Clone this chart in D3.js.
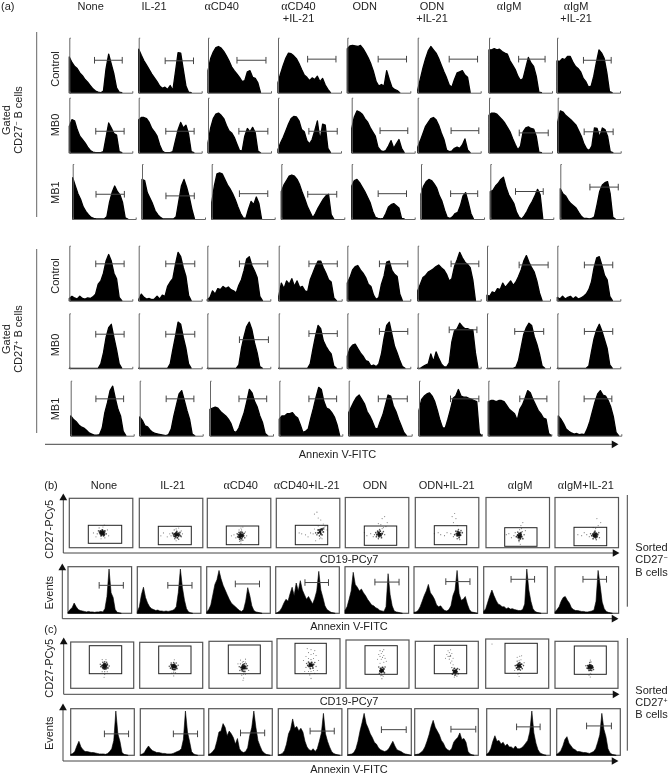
<!DOCTYPE html>
<html>
<head>
<meta charset="utf-8">
<script src="https://cdn.jsdelivr.net/npm/d3@7"></script>
<style>
  body { margin: 0; background: #fff; }
  svg { display: block; filter: blur(0.4px); }
  text { font-family: "Liberation Sans", Arial, sans-serif; font-size: 11px; fill: #222; }
</style>
</head>
<body>
<div id="chart"></div>
<script>
// ---- values ----
var namesTop = ["None", "IL-21", "αCD40", "αCD40|+IL-21", "ODN", "ODN|+IL-21", "αIgM", "αIgM|+IL-21"];
var namesLower = ["None", "IL-21", "αCD40", "αCD40+IL-21", "ODN", "ODN+IL-21", "αIgM", "αIgM+IL-21"];
var rowNames = ["Control", "MB0", "MB1", "Control", "MB0", "MB1"];

// panel (a) histograms: % of panel height per channel bin (25 bins), trailing zeros left off
var histA = [
  [
    [65,55,48,44,36,31,24,19,13,7,3,1,0,3,44,70,52,34,9,1,0],
    [79,68,58,50,42,34,27,20,12,8,10,6,13,4,38,73,72,42,12,1,0],
    [40,62,74,82,84,81,75,67,58,47,40,34,28,20,22,38,40,28,26,18,0],
    [18,35,50,63,72,71,67,62,53,42,32,28,22,27,24,30,20,26,14,6,0],
    [80,85,86,85,84,86,80,72,63,52,38,20,12,15,12,40,24,10,6,4,0],
    [5,25,45,62,76,84,78,72,62,50,38,27,14,10,24,36,38,40,32,28,0],
    [78,78,80,78,79,75,72,70,58,50,42,30,22,26,45,64,54,48,30,1,0],
    [58,57,62,60,66,66,56,48,44,38,26,20,10,12,30,55,78,72,62,36,2,0]
  ],
  [
    [48,60,58,42,30,24,18,10,4,1,0,0,0,2,28,54,45,35,32,2,0],
    [60,64,64,62,55,44,38,30,14,3,0,0,0,2,22,42,55,45,50,34,2,0],
    [18,45,62,70,72,68,62,50,40,36,28,16,4,3,30,44,38,46,36,3,0],
    [6,18,28,40,52,62,66,65,58,42,38,22,16,24,40,58,22,52,50,8,0],
    [44,65,76,74,70,62,56,46,38,30,10,4,2,4,12,22,8,16,24,8,0],
    [10,22,35,48,55,62,64,60,50,36,24,5,2,3,8,10,8,14,25,5,0],
    [68,72,72,70,65,60,54,46,38,26,15,5,12,38,45,47,44,43,30,1,0],
    [56,76,74,68,64,60,55,50,40,30,16,7,4,12,45,44,28,45,42,30,2,0]
  ],
  [
    [75,60,46,36,22,14,8,3,1,0,0,0,0,4,30,48,60,50,44,30,2,0],
    [72,70,48,38,28,15,8,3,0,0,0,0,0,4,32,60,72,58,40,18,0],
    [30,60,82,84,82,72,62,55,46,35,22,10,2,1,18,32,26,40,28,0],
    [50,62,70,78,80,78,72,62,48,36,22,12,2,10,20,28,36,42,45,8,0],
    [60,70,72,66,58,50,40,30,14,3,1,0,1,10,22,26,28,24,20,1,0],
    [45,60,68,72,70,64,56,42,32,16,3,1,4,10,12,24,42,48,30,10,0],
    [50,52,60,65,72,76,58,44,36,28,12,3,0,6,14,24,32,42,54,44,0],
    [55,46,42,34,28,24,20,12,5,1,1,0,1,4,26,50,62,66,68,46,3,0]
  ],
  [
    [4,8,5,3,8,4,3,5,4,7,12,30,36,50,72,84,72,50,40,6,0],
    [2,12,6,3,4,2,3,8,3,10,8,26,34,40,66,88,80,60,44,10,0],
    [2,6,18,12,22,20,26,22,25,20,18,14,28,38,55,76,80,64,54,42,8,0],
    [8,32,22,36,30,40,26,36,24,26,18,16,38,50,62,72,72,60,50,38,34,5,0],
    [32,42,56,62,64,56,50,42,30,26,10,2,6,30,45,70,72,55,48,44,12,0],
    [18,30,42,46,52,55,58,62,65,60,56,48,36,40,62,74,88,78,70,66,60,38,0],
    [10,8,16,14,22,20,32,24,30,36,28,34,44,56,72,82,70,60,52,36,14,0],
    [6,3,8,3,6,8,3,7,3,5,8,12,20,34,60,78,80,64,46,38,8,0]
  ],
  [
    [0,0,0,0,0,0,0,0,0,0,0,0,8,28,56,74,80,56,34,8,0],
    [0,0,0,0,0,0,0,0,0,0,0,0,8,34,58,84,80,56,36,8,0],
    [0,0,0,0,0,0,0,0,0,0,0,0,6,36,58,76,84,70,46,28,3,0],
    [0,0,0,0,0,0,0,0,0,0,0,0,8,34,58,78,72,50,40,32,26,4,0],
    [22,36,42,44,36,28,22,14,12,4,6,3,8,26,55,78,84,62,40,28,14,3,0],
    [0,0,3,6,8,26,12,30,18,8,3,2,10,48,68,72,82,76,72,72,70,70,28,0],
    [0,0,0,0,0,0,0,0,0,0,0,2,14,38,62,74,82,78,58,44,26,4,0],
    [0,0,0,0,0,0,0,0,0,0,0,0,4,30,54,70,80,68,52,36,6,0]
  ],
  [
    [36,30,26,20,16,14,10,5,3,1,1,2,14,42,60,82,90,68,48,36,8,0],
    [34,28,18,16,10,6,4,3,2,1,0,2,12,36,56,76,82,64,46,30,3,0],
    [48,50,52,50,44,40,36,30,22,8,6,14,28,42,62,84,78,62,52,36,24,4,0],
    [30,36,36,40,40,42,36,32,20,6,8,12,32,50,70,88,84,62,50,48,42,34,20,0],
    [42,52,62,70,74,66,58,44,36,26,14,12,26,38,56,74,72,54,44,30,18,6,0],
    [46,66,72,76,78,72,62,46,28,14,14,30,48,68,72,84,72,70,70,68,66,64,62,4,0],
    [62,64,64,62,64,64,62,55,48,44,40,28,48,56,68,82,78,66,56,46,40,32,30,4,0],
    [36,30,22,12,8,5,3,4,2,3,2,12,26,44,62,76,82,74,72,64,52,34,6,0]
  ]
];
// marker gates of (a): start and end channel, and level as % of panel height
var gateLoA = [
  [40,42,46,47,49,50,47,42],[42,43,49,49,45,53,48,42],[37,38,44,42,42,47,40,47],
  [42,43,51,48,51,53,51,43],[42,43,51,48,51,50,44,43],[40,42,46,47,47,50,50,41]
];
var gateHiA = [
  [84,87,92,92,94,95,89,86],[87,88,95,94,89,97,94,88],[82,83,89,88,87,90,84,92],
  [87,89,96,93,96,97,97,88],[87,89,97,93,96,94,90,88],[84,86,90,91,93,95,93,85]
];
var gateLevelA = [
  [59,58,59,61,61,61,61,59],[39,39,39,39,40,40,36,38],[45,42,46,45,46,46,50,58],
  [67,67,67,67,67,67,65,65],[62,62,52,63,67,70,67,67],[67,67,67,67,67,67,67,67]
];

// panels (b) and (c) histograms: 32 channel bins
var histB = [
  [2,8,12,22,14,8,6,5,4,3,4,3,3,2,3,3,4,3,10,36,95,44,34,8,2,1,0],
  [3,14,40,56,34,22,14,10,8,6,7,5,5,4,5,4,5,6,8,14,45,95,55,28,10,3,1,0],
  [3,8,18,40,62,72,92,74,60,50,40,30,22,18,14,10,6,4,8,26,55,38,16,6,3,2,1,0],
  [0,2,5,12,22,30,26,42,56,38,65,48,70,50,40,30,36,28,20,32,48,90,50,34,16,8,5,2,1,0],
  [6,14,30,48,88,62,56,48,52,44,38,30,24,18,16,12,10,6,5,4,14,85,40,16,5,3,2,1,0],
  [2,3,6,14,26,38,48,62,44,38,30,18,14,16,10,6,5,8,16,38,50,92,42,28,30,36,20,8,3,2,1,0],
  [4,10,24,38,50,38,28,20,18,14,14,10,12,9,10,8,7,6,6,8,20,95,50,26,10,4,2,1,0],
  [3,8,14,26,34,36,28,22,12,8,6,6,5,4,4,3,3,4,5,7,26,92,60,24,10,4,2,1,0]
];
var histC = [
  [2,4,8,20,30,18,12,8,8,7,6,6,5,4,3,3,3,2,4,8,14,32,95,46,30,6,2,1,0],
  [1,3,6,14,20,14,10,8,6,6,5,4,4,3,3,3,4,6,8,10,14,34,95,50,30,8,3,1,0],
  [2,4,8,14,30,50,52,68,60,42,52,46,38,24,36,14,8,6,8,16,42,60,95,60,32,20,10,5,2,1,0],
  [1,2,4,10,24,46,56,78,58,62,52,58,50,30,18,12,10,14,8,14,30,48,90,46,30,18,8,4,2,1,0],
  [1,2,3,6,14,30,52,70,90,68,58,46,38,28,24,16,12,10,8,10,14,22,30,20,12,10,8,5,3,2,1,0],
  [1,2,3,6,10,18,30,44,62,75,60,52,44,32,26,16,12,10,14,28,34,38,48,34,36,28,8,3,1,0],
  [2,6,14,30,42,30,32,24,28,20,24,18,18,14,20,14,14,16,20,26,32,50,95,48,26,12,5,3,1,0],
  [2,5,10,20,34,40,26,20,14,12,8,8,7,6,6,5,4,6,8,14,28,44,90,56,40,14,5,2,1,0]
];
var gateLoB = [49,48,45,46,47,50,43,44], gateHiB = [87,86,83,83,85,88,80,81], gateLevelB = [60,60,63,66,67,68,73,73];
var gateLoC = [53,52,50,50,53,57,47,47], gateHiC = [91,90,88,88,92,96,84,86], gateLevelC = [46,46,48,52,55,56,61,63];

// dot plots: x, y pairs in % of the frame, the first pair is the middle of the main cloud
var dotsB = [
  [52,30,50,32,54,28,53,33,49,28,55,31,51,26,48,31,56,34,52,36,50,24,54,24,46,34,58,28,44,28,60,36,53,42,47,40,56,20,50,18,38,30,62,24,55,46,42,22,53,30,51,29,50,30,53,27,52,33,49,34,55,26],
  [59,26,56,28,62,24,58,30,61,29,55,23,63,27,57,22,60,20,54,26,64,31,59,33,52,30,66,22,56,18,62,17,50,24,68,28,48,28,44,22,38,30,34,24,58,38,62,40,55,36,60,26,58,25,57,27,61,25,53,29,65,24,58,14,66,34],
  [53,24,51,26,55,22,52,29,56,27,50,21,54,18,51,17,57,24,49,26,53,32,55,31,50,31,58,29,48,22,53,14,51,13,56,15,59,20,47,28,60,32,54,36,50,36,45,20,42,26,38,24,62,24,53,40,56,42,53,9,54,25,52,23,53,27,55,25,51,23,52,20],
  [69,32,72,36,66,30,74,40,70,28,76,42,68,24,72,26,64,26,66,36,74,32,78,44,62,30,70,20,68,18,72,18,58,28,54,30,50,22,46,26,40,28,36,30,60,38,80,36,66,44,74,48,60,68,64,72,66,60,70,56,62,14,71,38,73,38,75,38,69,36],
  [54,27,52,30,56,24,50,26,58,28,53,22,55,33,51,33,49,22,57,20,60,32,48,30,46,26,54,36,58,38,52,18,62,26,44,22,40,28,34,24,30,30,60,40,64,42,56,46,52,48,66,50,58,58,62,62,54,27,53,26,55,27,54,25,53,29],
  [68,27,70,30,66,24,67,32,71,25,65,28,69,20,72,34,64,33,68,36,74,30,62,26,66,18,70,16,60,22,56,28,50,30,46,24,40,26,36,30,30,28,66,44,60,50,64,58,58,62,62,68,68,27,69,28,67,26,68,30,69,24],
  [53,23,55,26,51,20,52,28,56,22,50,25,54,18,52,15,55,30,50,31,57,32,48,22,58,18,53,36,56,38,52,12,46,30,44,24,60,26,40,20,36,28,62,34,55,44,58,50,54,7,53,24,54,24,52,24,53,21,54,28,52,22,32,26],
  [63,25,65,28,61,23,62,30,66,22,60,27,64,20,67,26,58,24,63,33,69,30,60,18,65,16,56,28,54,22,50,26,46,30,42,24,36,26,70,20,64,38,60,40,68,44,72,50,66,58,63,26,62,25,64,25,63,23,64,28,62,22]
];
var dotsC = [
  [54,48,52,50,56,46,53,53,55,52,51,45,57,49,50,49,54,42,52,43,56,42,58,52,48,47,54,57,51,56,57,56,59,44,47,52,54,36,50,36,58,36,54,30,53,24,56,62,50,62,61,48,54,49,53,47,55,48,54,46,53,50],
  [54,47,56,49,52,45,55,52,53,51,57,45,51,48,58,48,54,41,52,42,56,41,50,51,59,43,54,56,50,55,58,55,49,44,61,50,47,48,54,35,51,33,57,34,54,27,55,62,54,47,55,46,53,48,54,49,56,46],
  [55,44,53,47,57,42,54,50,56,52,52,40,58,46,51,44,55,36,53,37,57,36,59,52,50,52,55,57,53,56,58,56,60,42,49,38,61,48,48,46,55,30,52,28,58,30,55,22,54,17,58,62,50,60,63,38,46,52,55,44,54,45,56,44,55,46,54,42,53,44,56,47],
  [54,47,52,50,56,45,51,44,55,52,58,48,50,53,53,40,57,41,49,46,60,52,47,50,54,58,58,60,50,60,62,44,46,42,54,34,50,34,58,36,52,27,60,30,64,36,44,34,54,68,50,72,58,70,46,64,62,66,54,78,48,80,60,76,66,56,42,56,54,20,52,48,55,48,54,46,53,46],
  [57,38,55,41,59,35,56,33,58,43,54,36,60,40,53,31,61,32,57,27,55,26,59,25,52,44,62,44,57,20,54,52,60,54,56,60,58,64,54,66,60,68,56,72,52,70,62,62,58,76,54,78,60,80,50,60,64,56,57,37,56,38,58,37,57,35,55,35],
  [63,36,65,39,61,33,62,42,66,35,64,31,60,38,67,42,59,30,63,28,68,31,58,44,62,24,66,26,60,50,56,54,58,58,54,62,52,68,56,70,50,72,54,76,58,74,52,80,56,82,60,64,48,64,70,40,63,36,64,37,62,35,64,34,56,68,54,68],
  [53,45,55,48,51,43,52,50,56,43,54,52,50,47,57,49,53,39,51,38,55,37,49,41,58,40,53,57,56,58,50,55,47,46,60,46,53,31,56,30,51,29,53,24,46,36,61,52,54,65,50,63,57,66,53,45,54,46,52,46,54,44,10,90],
  [56,45,54,47,58,43,55,50,57,49,53,42,59,47,56,39,54,38,58,38,52,48,60,44,55,55,57,56,51,43,61,40,56,32,54,28,58,30,56,24,49,48,56,60,54,45,55,46,56,44,57,45,55,44]
];
// ---- end of values ----

// ---- layout ----
var width = 668, height = 776;
var aLeft = [
  [69.3,138.7,208,278,347.3,417.7,489,557],
  [69.3,138.7,208,278,351.7,417.7,489,557.7],
  [72.7,142,211.7,281.3,351.7,421,490.3,560.3],
  [69.3,138.7,207.3,278.7,347.3,417.7,487,557.3],
  [69.3,138.7,207.3,278.7,347.3,417.7,487,557.3],
  [70.7,139.7,210,279.3,348.7,419,488.3,558.3]
];
var aBase = [92.7,152.7,219,300.7,368.3,435.7];
var aTitleX = [90.7,154,221.7,298.5,364.7,432,509,576];
var aRowY = [69,125,192.7,276,345,409];
var lowerX = [104,172.7,240.7,306.7,375,446.7,520,585.7];
var dotFrameB = { left: [69.3,139.3,207.3,276.3,345.3,415.3,486,555], top: [498.3,498.3,498.3,498.3,497.5,497.5,497.5,497.5], bottom: 547.7, w: 63.5 };
var dotFrameC = { left: [70.7,139.7,209,277,346,415.3,485.7,555], top: [642,642.3,641.3,638.7,640,641.3,639,641.3], bottom: 688.3, w: 63 };
var innerB = { x0: [88.3,158.3,226.3,295.3,364.3,434.3,504.7,574], x1: [121.7,191.3,258.7,327.7,396.7,466.7,537,606.7], y0: [525.3,526.3,526,525.3,526,525.7,527.7,527.3], y1: [543.3,544.7,544.7,544.7,545.3,544.7,546.3,545.7] };
var innerC = { x0: [89.3,158.7,228.3,295,365,434.3,505,574.3], x1: [121.7,191,260.3,326.3,397.3,466.7,537.3,606.3], y0: [645.7,646,645,643.3,645.7,645.3,643.3,646], y1: [673.7,673.7,673.7,673.7,674.3,673.7,673.3,674.3] };
var histFrameB = { left: [68,137.3,206.7,275.7,345,414,483.7,555], top: 566.7, bottom: 613.3, w: 63.6 };
var histFrameC = { left: [70.7,140.3,208.7,278.3,347.7,414.7,486.7,556.7], top: 708.7, bottom: 755.3, w: 63.6 };

var svg = d3.select("#chart").append("svg").attr("width", width).attr("height", height);

function label(x, y, str, rotate, anchor) {
  var t = svg.append("text").attr("text-anchor", anchor || "middle");
  if (rotate) t.attr("transform", "translate(" + x + "," + y + ") rotate(-90)");
  else t.attr("x", x).attr("y", y);
  // alpha comes from the serif face in the reference
  if (str[0] === "α") {
    t.append("tspan").style("font-family", "'Liberation Serif', serif").style("font-size", "12px").text("α");
    t.append("tspan").text(str.slice(1));
  } else {
    t.text(str);
  }
  return t;
}

function superLabel(x, y, before, sup, after, rotate) {
  var t = label(x, y, before, rotate);
  t.append("tspan").attr("dy", -3.5).style("font-size", "7px").text(sup);
  t.append("tspan").attr("dy", 3.5).text(after);
}

function rule(x1, y1, x2, y2, color, w) {
  svg.append("line").attr("x1", x1).attr("y1", y1).attr("x2", x2).attr("y2", y2)
    .attr("stroke", color || "#555").attr("stroke-width", w || 1);
}

function arrowHead(x, y, angle) {
  svg.append("path").attr("d", d3.symbol(d3.symbolTriangle, 26)())
    .attr("transform", "translate(" + x + "," + y + ") rotate(" + angle + ")")
    .attr("fill", "#111");
}

function drawHist(values, bins, left, top, bottom, w, gate, withAxes) {
  var chan = d3.scaleLinear().domain([0, 100]).range([left, left + w]);
  var bin = d3.scaleLinear().domain([0, bins - 1]).range([left, left + w]);
  var y = d3.scaleLinear().domain([0, 100]).range([bottom, top]);
  var g = svg.append("g");

  // a stroke fattens the outline, the scanned bodies are wider than the bare polygon
  g.append("path").datum(values)
    .attr("fill", "#000").attr("stroke", "#000").attr("stroke-width", withAxes ? 1.3 : 0.6)
    .attr("stroke-linejoin", "round")
    .attr("d", d3.area().x(function(d, i) { return bin(i); }).y0(bottom).y1(function(d) { return y(d); }));

  if (withAxes) {
    // plain axes without labels, only the end ticks are left
    g.append("g").attr("transform", "translate(" + left + ",0)")
      .call(d3.axisRight(y).tickValues([]).tickSizeOuter(1.5))
      .select(".domain").attr("stroke", "#666");
    g.append("g").attr("transform", "translate(0," + bottom + ")")
      .call(d3.axisTop(chan).tickValues([]).tickSizeOuter(1.5))
      .select(".domain").attr("stroke", "#666");
  }

  var gy = y(gate.level);
  g.append("path")
    .attr("d", "M" + chan(gate.lo) + "," + (gy - 3.3) + "V" + (gy + 3.3) + "M" + chan(gate.lo) + "," + gy + "H" + chan(gate.hi) + "M" + chan(gate.hi) + "," + (gy - 3.3) + "V" + (gy + 3.3))
    .attr("fill", "none").attr("stroke", "#444").attr("stroke-width", 1);
}

function drawDots(flat, left, top, bottom, w, inner, i) {
  var x = d3.scaleLinear().domain([0, 100]).range([left, left + w]);
  var y = d3.scaleLinear().domain([0, 100]).range([bottom, top]);
  var pts = d3.range(flat.length / 2).map(function(k) { return [flat[2 * k], flat[2 * k + 1]]; });
  // dots near the middle of the cloud merge, the outliers stay faint
  function dist(d) { return Math.hypot(x(d[0]) - x(pts[0][0]), y(d[1]) - y(pts[0][1])); }
  var radius = d3.scaleLinear().domain([0, 3, 6]).range([1.3, 1, 0.55]).clamp(true);
  var shade = d3.scaleLinear().domain([0, 3, 6]).range([1, 0.85, 0.55]).clamp(true);
  svg.append("rect").attr("x", left).attr("y", top).attr("width", w).attr("height", bottom - top)
    .attr("fill", "none").attr("stroke", "#555").attr("stroke-width", 1.2);
  svg.append("g").selectAll("circle").data(pts).enter().append("circle")
    .attr("cx", function(d) { return x(d[0]); })
    .attr("cy", function(d) { return y(d[1]); })
    .attr("r", function(d) { return radius(dist(d)); })
    .attr("fill", "#111")
    .attr("fill-opacity", function(d) { return shade(dist(d)); });
  svg.append("rect").attr("x", inner.x0[i]).attr("y", inner.y0[i])
    .attr("width", inner.x1[i] - inner.x0[i]).attr("height", inner.y1[i] - inner.y0[i])
    .attr("fill", "none").attr("stroke", "#222").attr("stroke-width", 1);
}

// ---- panel (a) ----
label(1, 10, "(a)", false, "start");
namesTop.forEach(function(name, i) {
  var lines = name.split("|");
  label(aTitleX[i], 9.5, lines[0]);
  if (lines[1]) label(aTitleX[i], 22, lines[1]);
});
histA.forEach(function(row, r) {
  label(59, aRowY[r], rowNames[r], true);
  row.forEach(function(values, c) {
    drawHist(values, 25, aLeft[r][c], aBase[r] - 55, aBase[r], 63,
      { lo: gateLoA[r][c], hi: gateHiA[r][c], level: gateLevelA[r][c] }, true);
  });
});
label(10, 120, "Gated", true);
superLabel(22, 120, "CD27", "−", " B cells", true);
label(10, 339, "Gated", true);
superLabel(22, 339, "CD27", "+", " B cells", true);
rule(36.7, 32, 36.7, 217, "#666", 1);
rule(36.7, 249, 36.7, 433, "#666", 1);
rule(45, 444.3, 612, 444.3, "#444", 1);
arrowHead(614, 444.3, 90);
label(337.5, 457.7, "Annexin V-FITC");

// ---- panels (b) and (c) ----
label(44.3, 488.7, "(b)", false, "start");
label(44.3, 632.7, "(c)", false, "start");
namesLower.forEach(function(name, i) { label(lowerX[i], 489, name); });

d3.range(8).forEach(function(i) {
  drawDots(dotsB[i], dotFrameB.left[i], dotFrameB.top[i], dotFrameB.bottom, dotFrameB.w, innerB, i);
  drawDots(dotsC[i], dotFrameC.left[i], dotFrameC.top[i], dotFrameC.bottom, dotFrameC.w, innerC, i);

  [[histB, histFrameB, gateLoB, gateHiB, gateLevelB], [histC, histFrameC, gateLoC, gateHiC, gateLevelC]].forEach(function(p) {
    var f = p[1];
    svg.append("rect").attr("x", f.left[i]).attr("y", f.top).attr("width", f.w).attr("height", f.bottom - f.top)
      .attr("fill", "none").attr("stroke", "#555").attr("stroke-width", 1.2);
    drawHist(p[0][i], 32, f.left[i], f.top, f.bottom, f.w, { lo: p[2][i], hi: p[3][i], level: p[4][i] }, false);
  });
});

// L shaped axes with arrow heads
[[63.3, 500, 553, 618], [62.3, 570, 618.7, 617], [63.7, 644, 694.3, 618], [63, 710, 761, 617]].forEach(function(a) {
  rule(a[0], a[1], a[0], a[2], "#444", 1);
  rule(a[0], a[2], a[3] - 5, a[2], "#444", 1);
  arrowHead(a[0], a[1] - 2, 0);
  arrowHead(a[3] - 3, a[2], 90);
});

label(53.3, 529.3, "CD27-PCy5", true);
label(53.3, 668.3, "CD27-PCy5", true);
label(53, 592.7, "Events", true);
label(53, 733.3, "Events", true);
label(349, 563.3, "CD19-PCy7");
label(349, 705, "CD19-PCy7");
label(349, 630, "Annexin V-FITC");
label(349, 773, "Annexin V-FITC");

rule(627.3, 495, 627.3, 606.7, "#444", 1);
rule(627.3, 638, 627.3, 750.7, "#444", 1);
label(635.3, 551, "Sorted", false, "start");
var t1 = label(635.3, 563.3, "CD27", false, "start");
t1.append("tspan").attr("dy", -3.5).style("font-size", "7px").text("−");
label(635.3, 576, "B cells", false, "start");
label(635.3, 693.7, "Sorted", false, "start");
var t2 = label(635.3, 706, "CD27", false, "start");
t2.append("tspan").attr("dy", -3.5).style("font-size", "7px").text("+");
label(635.3, 718.3, "B cells", false, "start");
</script>
</body>
</html>
